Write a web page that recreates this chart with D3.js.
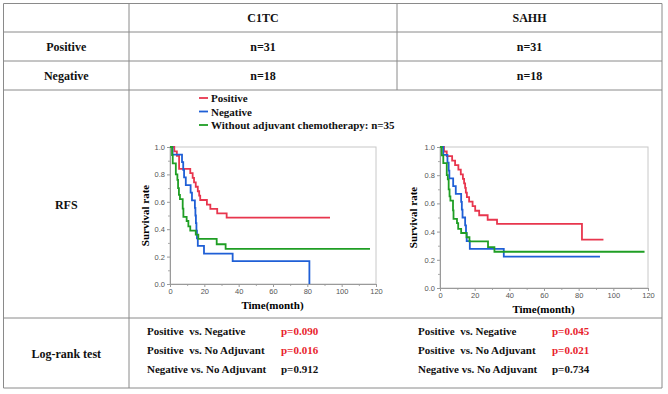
<!DOCTYPE html>
<html>
<head>
<meta charset="utf-8">
<script src="https://cdn.jsdelivr.net/npm/d3@7"></script>
<style>
  html, body { margin: 0; padding: 0; background: #fff; }
  svg { display: block; }
</style>
</head>
<body>
<div class="chart"></div>
<script>
// table contents
var columns = ["C1TC", "SAHH"];
var rowLabels = ["Positive", "Negative", "RFS", "Log-rank test"];
var positiveN = ["n=31", "n=31"];
var negativeN = ["n=18", "n=18"];
var legendLabels = ["Positive", "Negative", "Without adjuvant chemotherapy: n=35"];
var comparisons = ["Positive  vs. Negative", "Positive  vs. No Adjuvant", "Negative vs. No Adjuvant"];
var pC1TC = ["p=0.090", "p=0.016", "p=0.912"];
var pSAHH = ["p=0.045", "p=0.021", "p=0.734"];
var pSignificant = [true, true, false];

// Kaplan-Meier curves [month, survival rate]
var c1tcPositive = [[0,1],[2.5,0.968],[4,0.935],[5.3,0.84],[11.8,0.81],[13.2,0.774],[14,0.742],[15,0.71],[16.2,0.677],[17,0.645],[17.6,0.613],[21.5,0.58],[23.5,0.548],[27.5,0.516],[33,0.485],[93.2,0.485]];
var c1tcNegative = [[0,1],[1.5,0.944],[7,0.889],[7.7,0.833],[8.2,0.778],[9.2,0.722],[12,0.667],[12.8,0.611],[14.5,0.556],[14.8,0.5],[15.1,0.444],[15.4,0.389],[15.7,0.333],[16.2,0.278],[19.8,0.222],[36.5,0.167],[81.2,0]];
var c1tcNoAdj = [[0,1],[1.2,0.94],[1.6,0.88],[3.4,0.8],[4.3,0.76],[4.7,0.7],[5.2,0.65],[5.8,0.62],[7.4,0.55],[7.8,0.49],[9.7,0.46],[10.7,0.42],[11.8,0.39],[15,0.36],[16.5,0.33],[27.2,0.29],[32.4,0.257],[116.5,0.257]];
var sahhPositive = [[0,1],[2.3,0.968],[3.9,0.935],[7,0.903],[8.7,0.871],[10.6,0.839],[12,0.806],[13.2,0.774],[13.9,0.742],[14.5,0.71],[14.9,0.677],[15.5,0.645],[16.8,0.613],[18.8,0.58],[20.3,0.548],[22.6,0.516],[27.5,0.484],[32.9,0.455],[81.9,0.343],[94.3,0.343]];
var sahhNegative = [[0,1],[1.9,0.944],[4.3,0.889],[5,0.833],[5.4,0.778],[7.6,0.722],[9.1,0.667],[12.2,0.611],[12.6,0.556],[13,0.5],[14.5,0.444],[15,0.389],[15.4,0.333],[17.2,0.278],[36.8,0.222],[92.3,0.222]];
var sahhNoAdj = [[0,1],[1,0.94],[1.9,0.886],[3.9,0.8],[4.5,0.77],[5,0.7],[5.5,0.65],[6,0.62],[7.5,0.55],[7.8,0.49],[9.8,0.46],[10.5,0.42],[12.2,0.39],[15.3,0.36],[17,0.33],[27.7,0.29],[31.4,0.257],[118,0.257]];

var xTicks = [0, 20, 40, 60, 80, 100, 120];
var yTicks = [0, 0.2, 0.4, 0.6, 0.8, 1.0];

var w = 668, h = 394;
var serif = "'Liberation Serif', 'Times New Roman', serif";
var lineColor = "#8a8a8a";
var colors = ["#e8364e", "#1f5fd6", "#1f9e24"];

var svg = d3.select(".chart").append("svg")
    .attr("width", w)
    .attr("height", h);

// table grid
var colX = [3.5, 129, 397, 662];
var rowY = [3.5, 32, 61, 90, 318, 388];

var grid = svg.append("g").attr("stroke", lineColor).attr("stroke-width", 1).attr("fill", "none");
rowY.forEach(function(y) {
    grid.append("line").attr("x1", colX[0]).attr("x2", colX[3]).attr("y1", y).attr("y2", y);
});
grid.append("line").attr("x1", colX[0]).attr("x2", colX[0]).attr("y1", rowY[0]).attr("y2", rowY[5]);
grid.append("line").attr("x1", colX[1]).attr("x2", colX[1]).attr("y1", rowY[0]).attr("y2", rowY[5]);
grid.append("line").attr("x1", colX[2]).attr("x2", colX[2]).attr("y1", rowY[0]).attr("y2", rowY[3]);
grid.append("line").attr("x1", colX[3]).attr("x2", colX[3]).attr("y1", rowY[0]).attr("y2", rowY[5]);

function cellText(x, y, txt, size, anchor, color) {
    return svg.append("text")
        .attr("x", x)
        .attr("y", y)
        .attr("text-anchor", anchor || "middle")
        .style("font-family", serif)
        .style("font-weight", "bold")
        .style("font-size", (size || 12) + "px")
        .style("white-space", "pre")
        .attr("fill", color || "#111")
        .text(txt);
}

var colCenter = [(colX[0] + colX[1]) / 2, (colX[1] + colX[2]) / 2, (colX[2] + colX[3]) / 2];

// header + n rows
columns.forEach(function(c, i) {
    cellText(colCenter[i + 1], 22, c, 12);
    cellText(colCenter[i + 1], 51, positiveN[i], 12);
    cellText(colCenter[i + 1], 80, negativeN[i], 12);
});
cellText(colCenter[0], 51, rowLabels[0], 12);
cellText(colCenter[0], 80, rowLabels[1], 12);
cellText(colCenter[0], 209, rowLabels[2], 12);
cellText(colCenter[0], 358, rowLabels[3], 12);

// legend
legendLabels.forEach(function(l, i) {
    var y = 98 + i * 13.5;
    svg.append("line")
        .attr("x1", 199).attr("x2", 208)
        .attr("y1", y).attr("y2", y)
        .attr("stroke", colors[i])
        .attr("stroke-width", 1.8);
    cellText(211, y + 4, l, 11, "start");
});

// log-rank rows
function logRank(x0, xp, pvals) {
    comparisons.forEach(function(c, i) {
        var y = 335 + i * 19;
        cellText(x0, y, c, 11, "start");
        cellText(xp, y, pvals[i], 11, "start", pSignificant[i] ? "#e8222b" : "#111");
    });
}
logRank(147, 281, pC1TC);
logRank(418, 552, pSAHH);

// survival plots
var plots = [
    { x0: 170, x1: 376, yTop: 147, yBot: 284, series: [c1tcPositive, c1tcNegative, c1tcNoAdj], ylabX: 145, xlabY: 309 },
    { x0: 440, x1: 648, yTop: 147, yBot: 288, series: [sahhPositive, sahhNegative, sahhNoAdj], ylabX: 413, xlabY: 313 }
];

plots.forEach(function(p) {
    var xScale = d3.scaleLinear().domain([0, 120]).range([p.x0, p.x1]);
    var yScale = d3.scaleLinear().domain([0, 1]).range([p.yBot, p.yTop]);

    var g = svg.append("g");

    // frame
    g.append("rect")
        .attr("x", p.x0).attr("y", p.yTop)
        .attr("width", p.x1 - p.x0).attr("height", p.yBot - p.yTop)
        .attr("fill", "none")
        .attr("stroke", "#c8c8c8")
        .attr("stroke-width", 1);

    // minor ticks
    g.append("g")
        .attr("transform", "translate(" + p.x0 + ",0)")
        .call(d3.axisLeft(yScale).tickValues([0.1, 0.3, 0.5, 0.7, 0.9]).tickSize(2).tickFormat(""))
        .call(function(a) { a.select(".domain").remove(); a.selectAll("line").attr("stroke", "#aaa"); });
    g.append("g")
        .attr("transform", "translate(0," + p.yBot + ")")
        .call(d3.axisBottom(xScale).tickValues([10, 30, 50, 70, 90, 110]).tickSize(2).tickFormat(""))
        .call(function(a) { a.select(".domain").remove(); a.selectAll("line").attr("stroke", "#aaa"); });

    // axes
    var yAxis = g.append("g")
        .attr("transform", "translate(" + p.x0 + ",0)")
        .call(d3.axisLeft(yScale).tickValues(yTicks).tickSize(3).tickPadding(2).tickFormat(d3.format(".1f")));
    var xAxis = g.append("g")
        .attr("transform", "translate(0," + p.yBot + ")")
        .call(d3.axisBottom(xScale).tickValues(xTicks).tickSize(3).tickPadding(2));
    [xAxis, yAxis].forEach(function(a) {
        a.select(".domain").attr("stroke", "#9a9a9a");
        a.selectAll("line").attr("stroke", "#9a9a9a");
        a.selectAll("text")
            .attr("fill", "#555")
            .style("font-family", "'Liberation Sans', Arial, sans-serif")
            .style("font-size", "7.5px");
    });

    // curves
    var line = d3.line()
        .x(function(d) { return xScale(d[0]); })
        .y(function(d) { return yScale(d[1]); })
        .curve(d3.curveStepAfter);

    p.series.forEach(function(s, i) {
        g.append("path")
            .datum(s)
            .attr("d", line)
            .attr("fill", "none")
            .attr("stroke", colors[i])
            .attr("stroke-width", 1.8);
    });

    // axis labels
    svg.append("text")
        .attr("transform", "translate(" + p.ylabX + "," + ((p.yTop + p.yBot) / 2) + ") rotate(-90)")
        .attr("text-anchor", "middle")
        .attr("dy", "0.35em")
        .style("font-family", serif)
        .style("font-weight", "bold")
        .style("font-size", "11px")
        .text("Survival rate");

    svg.append("text")
        .attr("x", (p.x0 + p.x1) / 2 - 0.5)
        .attr("y", p.xlabY)
        .attr("text-anchor", "middle")
        .style("font-family", serif)
        .style("font-weight", "bold")
        .style("font-size", "11px")
        .text("Time(month)");
});
</script>
</body>
</html>
